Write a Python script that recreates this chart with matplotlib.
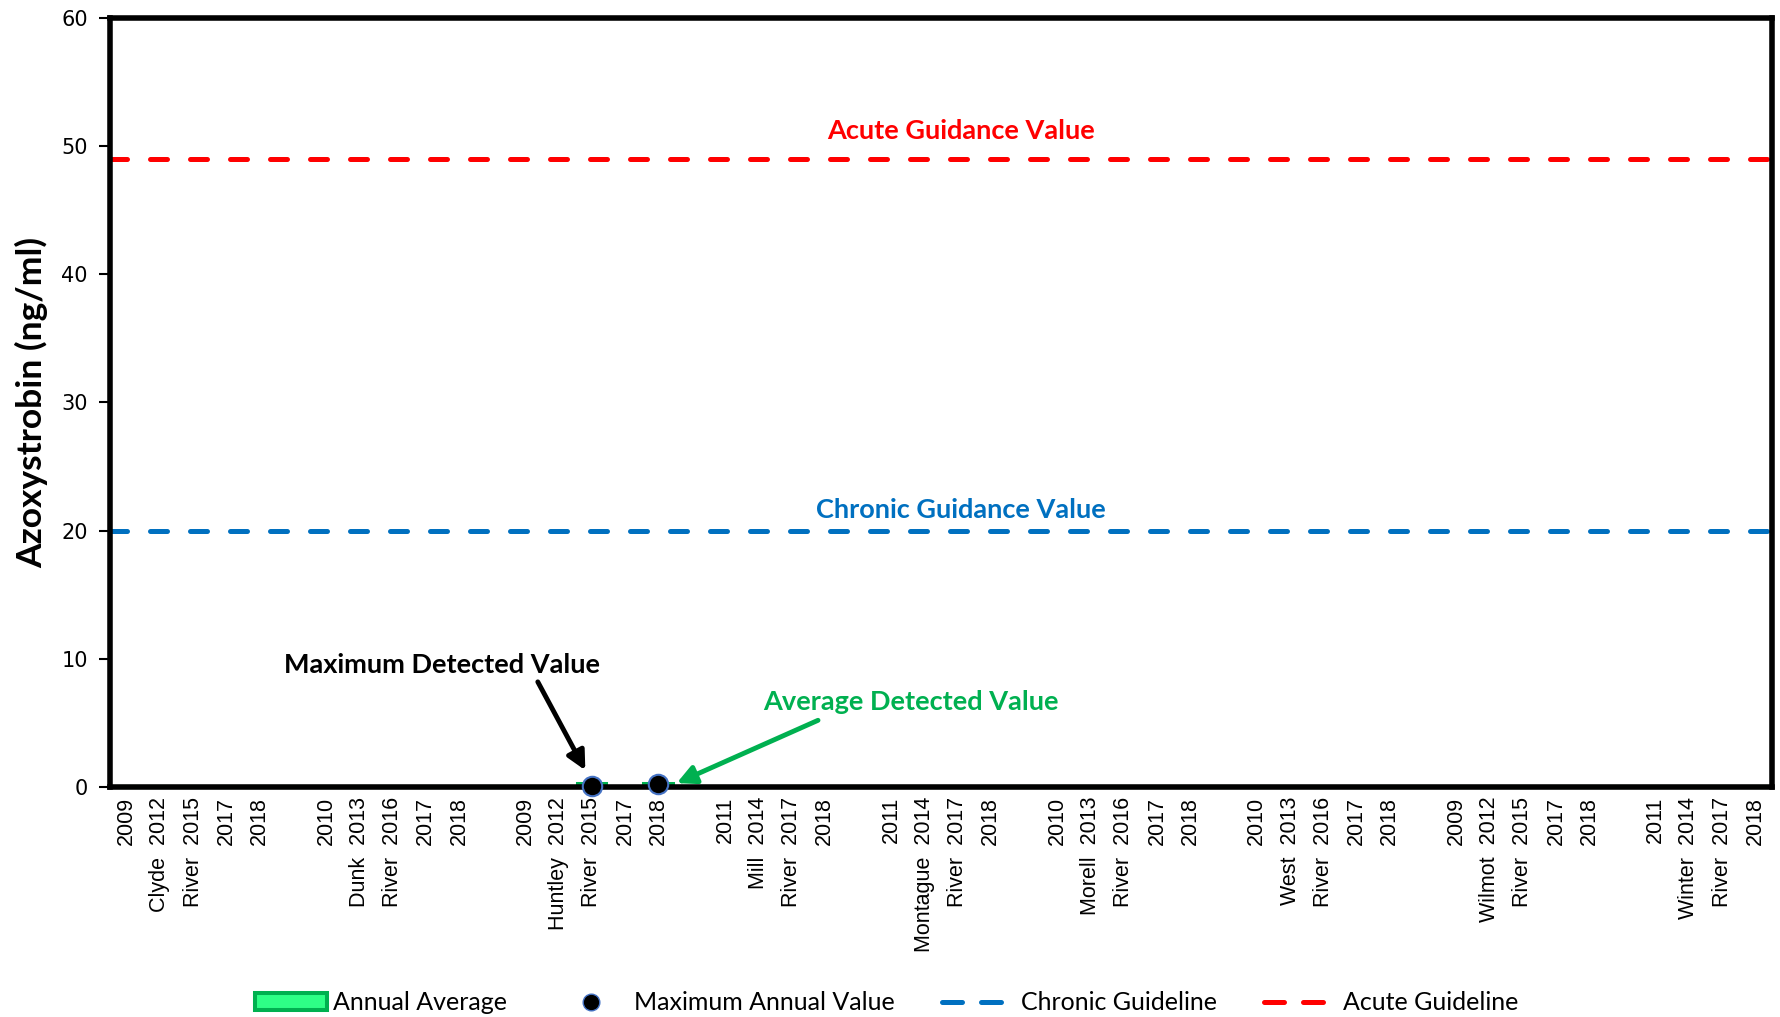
import matplotlib
matplotlib.use("Agg")
import matplotlib.pyplot as plt
import numpy as np
from matplotlib.patches import Patch
from matplotlib.lines import Line2D

# sites and sampled years (one blank slot between sites)
sites = ["Clyde River", "Dunk River", "Huntley River", "Mill River", "Montague River",
         "Morell River", "West River", "Wilmot River", "Winter River"]
site_years = [
    [2009, 2012, 2015, 2017, 2018],
    [2010, 2013, 2016, 2017, 2018],
    [2009, 2012, 2015, 2017, 2018],
    [2011, 2014, 2017, 2018],
    [2011, 2014, 2017, 2018],
    [2010, 2013, 2016, 2017, 2018],
    [2010, 2013, 2016, 2017, 2018],
    [2009, 2012, 2015, 2017, 2018],
    [2011, 2014, 2017, 2018],
]

# detections (site, year) -> value, ng/ml
avg_detect = {("Huntley River", 2015): 0.2, ("Huntley River", 2018): 0.25}
max_detect = {("Huntley River", 2015): 0.1, ("Huntley River", 2018): 0.25}

chronic = 20
acute = 49

# build category slots
labels = []
avg_vals = []
max_vals = []
for i, (site, years) in enumerate(zip(sites, site_years)):
    words = site.split()
    for j, yr in enumerate(years):
        word = words[j - 1] if 1 <= j <= len(words) else ""
        labels.append(f"{word}  {yr}" if word else str(yr))
        avg_vals.append(avg_detect.get((site, yr), np.nan))
        max_vals.append(max_detect.get((site, yr), np.nan))
    if i < len(sites) - 1:
        labels.append("")
        avg_vals.append(np.nan)
        max_vals.append(np.nan)

x = np.arange(len(labels))
avg_vals = np.array(avg_vals)
max_vals = np.array(max_vals)

fig = plt.figure(figsize=(17.8, 10.17), dpi=100)
ax = fig.add_axes([0.0618, 0.2262, 0.9337, 0.7561])

green_face = "#2EFF86"
green_edge = "#00B050"
red = "#FF0000"
blue = "#0070C0"

ax.bar(x, np.nan_to_num(avg_vals), width=0.85, color=green_face, edgecolor=green_edge,
       linewidth=2.9, zorder=3, clip_on=False)
ax.plot(x, max_vals, "o", color="black", markeredgecolor="#4472C4", markersize=14,
        markeredgewidth=1.5, zorder=5, clip_on=False)

dash = (3.4, 4.6)
ax.axhline(chronic, color=blue, lw=3.6, ls=(0, dash), dash_capstyle="round", zorder=2)
ax.axhline(acute, color=red, lw=3.6, ls=(0, dash), dash_capstyle="round", zorder=2)

ax.set_xlim(-0.5, len(labels) - 0.5)
ax.set_ylim(0, 60)
ax.set_yticks(np.arange(0, 61, 10))
ax.tick_params(axis="y", labelsize=15, length=8, width=1.5, pad=8)
for t in ax.get_yticklabels():
    t.set_fontfamily("DejaVu Sans")

ax.set_xticks(x)
ax.set_xticklabels(labels, rotation=90, fontsize=15.5, family="Liberation Sans", va="top")
ax.tick_params(axis="x", length=0, pad=7)

for s in ax.spines.values():
    s.set_linewidth(4)
    s.set_zorder(4)

ax.set_ylabel("Azoxystrobin (ng/ml)", fontsize=25.5, fontweight="bold", family="Lato", labelpad=9)

ax.text(25.1, 51.2, "Acute Guidance Value", color=red, fontsize=19.5, fontweight="bold",
        family="Lato", ha="center", va="center")
ax.text(25.1, 21.6, "Chronic Guidance Value", color=blue, fontsize=19.5, fontweight="bold",
        family="Lato", ha="center", va="center")

ax.text(9.5, 9.5, "Maximum Detected Value", fontsize=19.5, fontweight="bold",
        family="Lato", ha="center", va="center")
ax.text(23.6, 6.6, "Average Detected Value", color=green_edge, fontsize=19.5,
        fontweight="bold", family="Lato", ha="center", va="center")

ax.annotate("", xy=(13.8, 1.3), xytext=(12.37, 8.2),
            arrowprops=dict(arrowstyle="-|>", color="black", lw=3.5, mutation_scale=28,
                            shrinkA=0, shrinkB=0))
ax.annotate("", xy=(16.55, 0.3), xytext=(20.8, 5.2),
            arrowprops=dict(arrowstyle="-|>", color=green_edge, lw=3.5, mutation_scale=28,
                            shrinkA=0, shrinkB=0))

handles = [
    Patch(facecolor=green_face, edgecolor=green_edge, linewidth=2.9),
    Line2D([], [], marker="o", color="black", markeredgecolor="#4472C4", ls="none",
           markersize=12),
    Line2D([], [], color=blue, lw=3.6, ls=(0, (4.0, 3.8)), dash_capstyle="round"),
    Line2D([], [], color=red, lw=3.6, ls=(0, (4.0, 3.8)), dash_capstyle="round"),
]
fig.legend(handles, ["Annual Average", "Maximum Annual Value", "Chronic Guideline", "Acute Guideline"],
           loc="center", bbox_to_anchor=(0.498, 0.014), ncol=4, frameon=False,
           prop={"family": "Lato", "size": 18}, columnspacing=1.9, handlelength=2.9,
           handletextpad=0.25)

fig.savefig("out.png", dpi=100)
